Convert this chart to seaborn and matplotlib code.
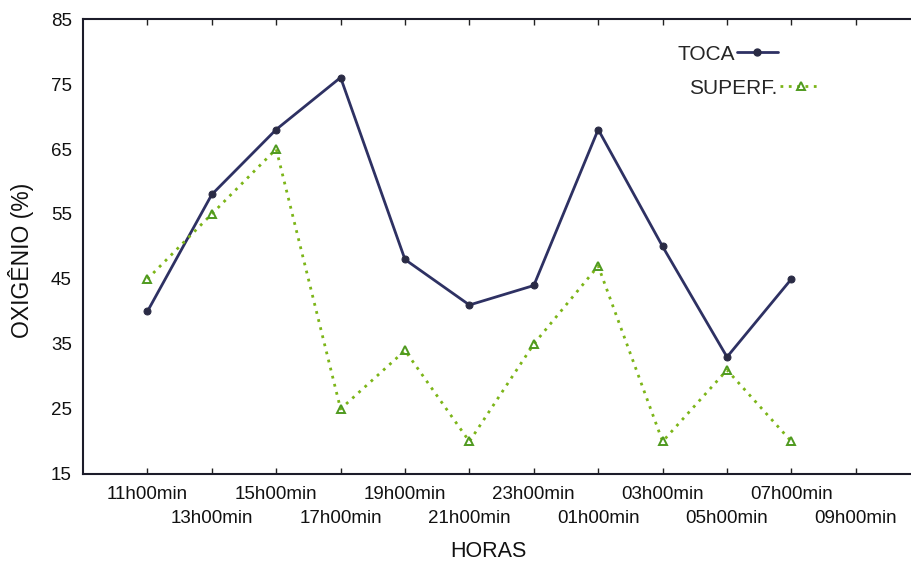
import numpy as np
import pandas as pd
import matplotlib
matplotlib.use("Agg")
import matplotlib.pyplot as plt
import seaborn as sns
from matplotlib.lines import Line2D

# Horários de coleta e rótulos do eixo X
horas_ticks = ["11h00min", "13h00min", "15h00min", "17h00min", "19h00min",
               "21h00min", "23h00min", "01h00min", "03h00min", "05h00min",
               "07h00min", "09h00min"]
horas_coleta = horas_ticks[:11]

# Oxigênio (%) medido na toca e na superfície
toca = [40, 58, 68, 76, 48, 41, 44, 68, 50, 33, 45]
superf = [45, 55, 65, 25, 34, 20, 35, 47, 20, 31, 20]

y_ticks = [15, 25, 35, 45, 55, 65, 75, 85]

sns.set_theme(style="white")
plt.rcParams["font.family"] = ["Liberation Sans", "DejaVu Sans"]

df = pd.DataFrame({
    "pos": np.arange(len(horas_coleta)),
    "hora": horas_coleta,
    "TOCA": toca,
    "SUPERF.": superf,
})

fig = plt.figure(figsize=(9.12, 5.64), dpi=100)
ax = fig.add_axes([0.091, 0.1596, 0.918, 0.8067])

cor_toca = "#2e3163"
cor_sup = "#7cb518"

sns.lineplot(data=df, x="pos", y="TOCA", ax=ax, color=cor_toca, lw=2.0,
             marker="o", markersize=5, markerfacecolor="#2a2b45",
             markeredgecolor="#2a2b45")
sns.lineplot(data=df, x="pos", y="SUPERF.", ax=ax, color=cor_sup, lw=2.0,
             linestyle=(0, (1, 2.0)), marker="^", markersize=6,
             markerfacecolor="none", markeredgecolor="#4f9a1f",
             markeredgewidth=1.4)

ax.set_xlim(-1, 12)
ax.set_ylim(15, 85)
ax.set_yticks(y_ticks)
ax.set_yticklabels([str(v) for v in y_ticks], fontsize=13.5, color="#111111")

pos_all = np.arange(len(horas_ticks))
ax.set_xticks(pos_all[0::2], horas_ticks[0::2])
ax.set_xticks(pos_all[1::2], horas_ticks[1::2], minor=True)
ax.tick_params(axis="x", which="both", direction="in", length=4, width=1,
               top=True, bottom=True, labelsize=13.5, labelcolor="#111111",
               color="#222222")
ax.tick_params(axis="x", which="major", pad=8.5)
ax.tick_params(axis="x", which="minor", pad=26)
ax.tick_params(axis="y", length=0, pad=8)

for side in ["left", "bottom", "top"]:
    ax.spines[side].set_color("#1c1c2a")
    ax.spines[side].set_linewidth(1.5)
ax.spines["right"].set_visible(False)

ax.set_xlabel("HORAS", fontsize=15.5, color="#111111")
ax.set_ylabel("OXIGÊNIO (%)", fontsize=16.5, color="#111111")
ax.xaxis.set_label_coords(0.484, -0.148)
ax.yaxis.set_label_coords(-0.058, 0.47)

h_toca = Line2D([], [], color=cor_toca, lw=2.0, marker="o", markersize=5,
                markerfacecolor="#2a2b45", markeredgecolor="#2a2b45")
h_sup = Line2D([], [], color=cor_sup, lw=2.0, linestyle=(0, (1, 2.0)),
               marker="^", markersize=6, markerfacecolor="none",
               markeredgecolor="#4f9a1f", markeredgewidth=1.4)

leg1 = ax.legend([h_toca], ["TOCA"], loc="center", bbox_to_anchor=(0.77, 0.923),
                 frameon=False, markerfirst=False, fontsize=15,
                 handlelength=2.0, handletextpad=0.1, borderpad=0)
ax.add_artist(leg1)
ax.legend([h_sup], ["SUPERF."], loc="center", bbox_to_anchor=(0.803, 0.848),
          frameon=False, markerfirst=False, fontsize=15,
          handlelength=2.0, handletextpad=0.1, borderpad=0)

fig.savefig("out.png", dpi=100)
